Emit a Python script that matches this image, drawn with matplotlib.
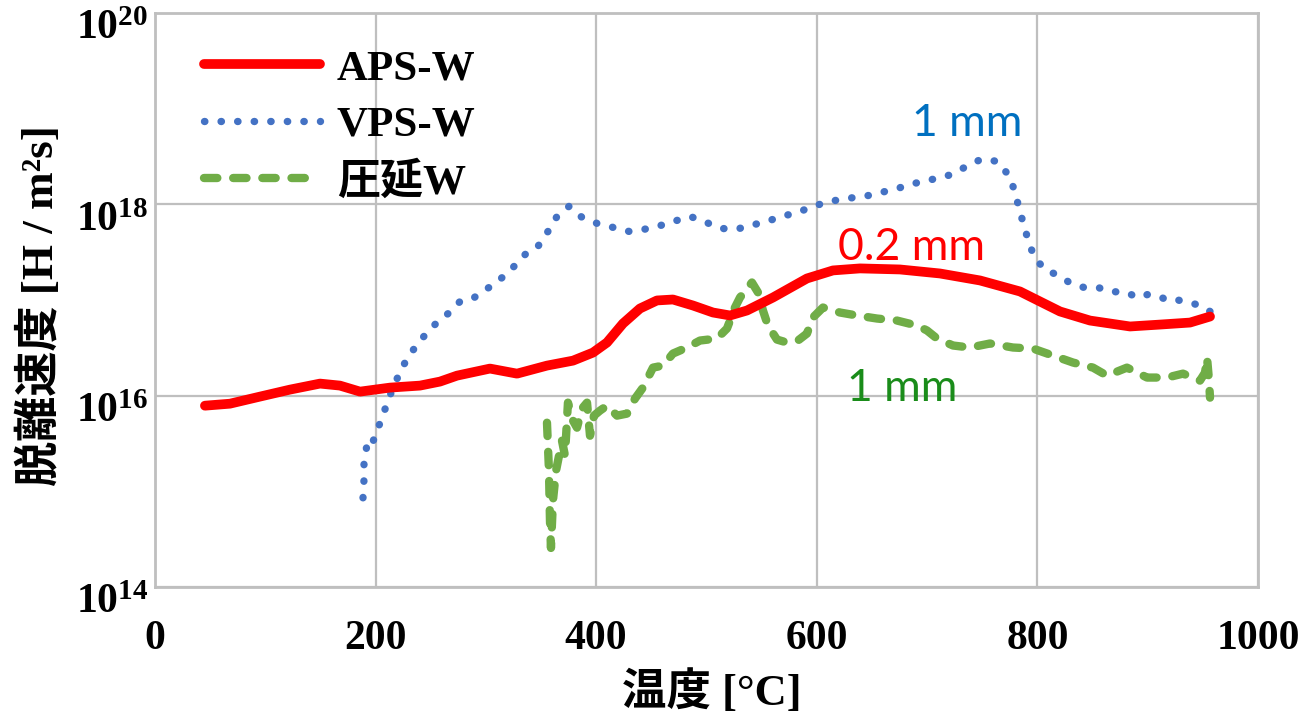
import numpy as np
import matplotlib
matplotlib.use("Agg")
import matplotlib.pyplot as plt
import matplotlib.transforms as mtransforms
from matplotlib.font_manager import FontProperties

plt.rcParams['mathtext.fontset'] = 'custom'
plt.rcParams['mathtext.bf'] = 'Liberation Serif:bold'
plt.rcParams['mathtext.rm'] = 'Liberation Serif:bold'
plt.rcParams['mathtext.default'] = 'bf'

# APS-W (0.2 mm)
aps_T = [45.3, 68.0, 95.2, 122.4, 149.6, 167.7, 185.9, 213.1, 240.3, 258.4,
         273.8, 303.7, 328.2, 355.4, 379.0, 397.1, 409.8, 424.3, 439.7, 455.1,
         469.6, 487.8, 505.9, 521.3, 536.7, 560.3, 591.1, 614.7, 639.2, 675.4,
         711.7, 748.0, 784.2, 802.4, 820.5, 847.7, 884.0, 911.2, 938.4, 956.5]
aps_log = [15.895, 15.916, 15.990, 16.063, 16.126, 16.105, 16.042, 16.084, 16.105, 16.147,
           16.209, 16.283, 16.230, 16.314, 16.366, 16.450, 16.555, 16.754, 16.911, 16.995,
           17.005, 16.942, 16.869, 16.838, 16.890, 17.026, 17.225, 17.309, 17.330, 17.319,
           17.277, 17.204, 17.089, 16.984, 16.880, 16.785, 16.723, 16.743, 16.764, 16.827]

# VPS-W (1 mm)
vps_T = [188.6, 189.5, 189.5, 192.2, 195.8, 200.4, 204.9, 210.3, 215.8, 221.2,
         226.7, 233.0, 242.1, 249.3, 258.4, 268.4, 276.5, 288.3, 298.3, 307.3,
         319.1, 328.2, 338.2, 347.2, 356.3, 364.5, 375.4, 387.1, 400.7, 415.2,
         429.7, 443.3, 458.7, 473.3, 485.0, 497.7, 512.2, 526.7, 540.3, 554.8,
         568.4, 582.9, 596.5, 612.0, 628.3, 643.7, 659.1, 673.6, 689.0, 705.3,
         719.8, 734.3, 748.9, 763.4, 773.3, 779.7, 783.3, 787.8, 792.4, 797.8,
         807.8, 815.0, 823.2, 830.5, 842.2, 854.9, 865.8, 881.2, 890.3, 900.3,
         908.4, 916.6, 923.0, 932.0, 941.1, 947.4, 956.5]
vps_log = [14.932, 15.120, 15.298, 15.487, 15.455, 15.613, 15.738, 15.916, 16.084, 16.220,
           16.346, 16.461, 16.597, 16.691, 16.796, 16.880, 16.984, 17.016, 17.099, 17.162,
           17.277, 17.382, 17.508, 17.560, 17.717, 17.874, 17.979, 17.864, 17.801, 17.759,
           17.717, 17.738, 17.780, 17.832, 17.874, 17.822, 17.749, 17.738, 17.780, 17.822,
           17.874, 17.916, 17.979, 18.031, 18.063, 18.084, 18.126, 18.168, 18.220, 18.262,
           18.304, 18.387, 18.471, 18.450, 18.314, 18.136, 17.958, 17.780, 17.592, 17.435,
           17.309, 17.277, 17.225, 17.173, 17.131, 17.131, 17.089, 17.079, 17.026, 17.058,
           17.047, 17.005, 17.016, 16.984, 16.963, 16.942, 16.880]

# rolled W (1 mm)
roll_T = [355.4, 357.2, 358.1, 359.0, 360.8, 363.6, 366.3, 369.0, 371.7, 374.4,
          379.0, 382.6, 387.1, 391.7, 394.4, 398.0, 403.4, 409.8, 418.9, 427.9,
          435.2, 442.4, 451.5, 460.6, 469.6, 482.3, 494.1, 509.5, 518.6, 525.8,
          530.4, 541.2, 546.7, 551.2, 555.7, 563.9, 573.0, 582.9, 591.1, 596.5,
          605.6, 621.0, 636.4, 654.6, 672.7, 690.8, 699.9, 709.0, 723.5, 738.9,
          757.0, 777.9, 796.0, 814.1, 832.3, 850.4, 863.1, 881.2, 899.4, 917.5,
          932.0, 947.4, 952.0, 953.8, 955.6, 956.5]
roll_log = [15.717, 15.215, 14.691, 14.408, 14.901, 15.215, 15.372, 15.529, 15.372, 15.927,
            15.738, 15.665, 15.864, 15.927, 15.581, 15.791, 15.843, 15.895, 15.791, 15.812,
            15.969, 16.084, 16.293, 16.314, 16.440, 16.503, 16.576, 16.597, 16.702, 16.921,
            17.026, 17.183, 17.079, 16.890, 16.733, 16.586, 16.555, 16.576, 16.649, 16.817,
            16.921, 16.869, 16.838, 16.806, 16.785, 16.733, 16.681, 16.597, 16.524, 16.503,
            16.545, 16.503, 16.492, 16.419, 16.346, 16.293, 16.209, 16.293, 16.189, 16.189,
            16.230, 16.157, 16.241, 16.398, 16.157, 15.979]

labels = ['APS-W', 'VPS-W', '圧延W']
x_ticks = [0, 200, 400, 600, 800, 1000]
y_ticks = [1e14, 1e16, 1e18, 1e20]
y_ticklabels = [r'$10^{14}$', r'$10^{16}$', r'$10^{18}$', r'$10^{20}$']

serif_cjk = ['Liberation Serif', 'Noto Sans CJK JP', 'DejaVu Sans']
grid_col = '#BFBFBF'

fig = plt.figure(figsize=(13.1, 7.18), dpi=100)
ax = fig.add_axes([0.1183, 0.1825, 0.8420, 0.7994])

ax.plot(aps_T, 10 ** np.array(aps_log), color='#FF0000', lw=7,
        solid_capstyle='round', solid_joinstyle='round', label=labels[0], zorder=4)
ax.plot(vps_T, 10 ** np.array(vps_log), color='#4472C4', lw=5.3,
        linestyle=(0, (0.05, 2.2)), dash_capstyle='round', label=labels[1], zorder=3)
ax.plot(roll_T, 10 ** np.array(roll_log), color='#70AD47', lw=6,
        linestyle=(0, (1.6, 1.9)), dash_capstyle='round', dash_joinstyle='round',
        label=labels[2], zorder=3)

ax.set_yscale('log')
ax.set_xlim(0, 1000)
ax.set_ylim(1e14, 1e20)
ax.set_xticks(x_ticks)
ax.set_yticks(y_ticks)
ax.set_yticklabels(y_ticklabels)
ax.yaxis.set_minor_locator(matplotlib.ticker.NullLocator())
ax.grid(True, color=grid_col, lw=1.6)
ax.set_axisbelow(True)
for s in ax.spines.values():
    s.set_color(grid_col)
    s.set_linewidth(2)

ax.tick_params(axis='both', length=0)
ax.tick_params(axis='x', pad=24)
ax.tick_params(axis='y', pad=5)
for lab in ax.get_xticklabels():
    lab.set_fontfamily('Liberation Serif')
    lab.set_fontweight('bold')
    lab.set_fontsize(30)
for lab in ax.get_yticklabels():
    lab.set_fontsize(30)
    lab.set_transform(lab.get_transform() +
                      mtransforms.ScaledTranslation(0, -10 / 100, fig.dpi_scale_trans))

ax.set_xlabel('温度 [°C]', family=serif_cjk, fontweight='bold', fontsize=32, va='center')
ax.xaxis.set_label_coords(0.505, -0.183)
ax.set_ylabel('脱離速度 [H / m²s]', family=serif_cjk, fontweight='bold', fontsize=32.5,
              va='center')
ax.yaxis.set_label_coords(-0.104, 0.49)

leg = ax.legend(loc='upper left', bbox_to_anchor=(0.044, 0.937), frameon=False,
                prop=FontProperties(family=serif_cjk, weight='bold', size=31),
                handlelength=2.7, handletextpad=0.4, labelspacing=0.4,
                borderpad=0, borderaxespad=0)

ax.text(736, 10 ** 18.85, '1 mm', color='#0070C0', fontsize=32, family='Lato',
        ha='center', va='center')
ax.text(686, 10 ** 17.55, '0.2 mm', color='#FF0000', fontsize=32, family='Lato',
        ha='center', va='center')
ax.text(677, 10 ** 16.07, '1 mm', color='#1A8C1A', fontsize=32, family='Lato',
        ha='center', va='center')

fig.savefig('out.png', dpi=100)
